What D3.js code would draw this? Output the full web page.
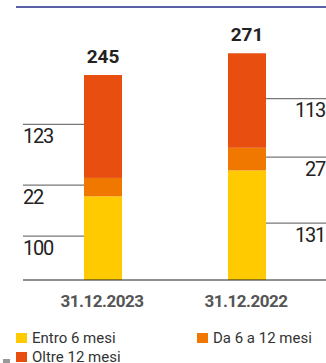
<!DOCTYPE html>
<html>
<head>
<meta charset="utf-8">
<script src="https://cdn.jsdelivr.net/npm/d3@7"></script>
<style>
  body { margin: 0; background: #fff; }
  svg { display: block; }
</style>
</head>
<body>
<svg id="chart" width="326" height="363"></svg>
<script>
var categories = ['31.12.2023', '31.12.2022'];
var seriesNames = ['Entro 6 mesi', 'Da 6 a 12 mesi', 'Oltre 12 mesi'];
var entro = [100, 131];
var da6 = [22, 27];
var oltre = [123, 113];
var totals = [245, 271];
var colors = ['#FFCB00', '#F07800', '#E84E10'];

var svg = d3.select('#chart');
var y = d3.scaleLinear().domain([0, 300]).range([280, 29]);
var x = d3.scalePoint().domain(categories).range([103, 247]);
var barW = 38;

// top rule
svg.append('line')
  .attr('x1', 16).attr('x2', 326).attr('y1', 7).attr('y2', 7)
  .attr('stroke', '#5b5fa6').attr('stroke-width', 2);

var rows = categories.map(function(c, i) {
  return { cat: c, vals: [entro[i], da6[i], oltre[i]], total: totals[i], idx: i };
});

rows.forEach(function(r) {
  var base = 0;
  r.segs = r.vals.map(function(v, k) {
    var s = { y0: base, y1: base + v, v: v, k: k };
    base += v;
    return s;
  });
});

var g = svg.selectAll('g.bar')
  .data(rows)
  .enter().append('g')
  .attr('class', 'bar');

g.selectAll('rect')
  .data(function(d) { return d.segs.map(function(s) { s.cat = d.cat; s.idx = d.idx; return s; }); })
  .enter().append('rect')
  .attr('x', function(s) { return x(s.cat) - barW / 2; })
  .attr('y', function(s) { return y(s.y1); })
  .attr('width', barW)
  .attr('height', function(s) { return y(s.y0) - y(s.y1); })
  .attr('fill', function(s) { return colors[s.k]; });

// totals above bars
g.append('text')
  .attr('x', function(d) { return x(d.cat); })
  .attr('y', function(d) { return y(d.total) - 12; })
  .attr('text-anchor', 'middle')
  .style('font-family', 'Roboto, sans-serif')
  .style('font-weight', 'bold')
  .style('font-size', '19px')
  .style('fill', '#222')
  .text(function(d) { return d.total; });

// segment callouts: first bar to the left, second to the right
g.each(function(d) {
  var sel = d3.select(this);
  var left = d.idx == 0;
  d.segs.forEach(function(s) {
    var ly = (y(s.y0) + y(s.y1)) / 2 - 2;
    var xa = left ? 23 : x(d.cat) + barW / 2;
    var xb = left ? x(d.cat) - barW / 2 : 326;
    sel.append('line')
      .attr('x1', xa).attr('x2', xb).attr('y1', ly).attr('y2', ly)
      .attr('stroke', '#777').attr('stroke-width', 1.2);
    sel.append('text')
      .attr('x', left ? 23 : 325)
      .attr('y', ly + 18.5)
      .attr('text-anchor', left ? 'start' : 'end')
      .style('font-family', 'Roboto, sans-serif')
      .style('font-weight', 400)
      .style('font-size', '20px')
      .style('letter-spacing', '-1.2px')
      .style('fill', '#222')
      .text(s.v);
  });
});

// baseline
svg.append('line')
  .attr('x1', 23).attr('x2', 326).attr('y1', y(0)).attr('y2', y(0))
  .attr('stroke', '#222').attr('stroke-width', 1.2);

// category labels
svg.selectAll('text.cat')
  .data(categories)
  .enter().append('text')
  .attr('class', 'cat')
  .attr('x', function(d) { return x(d) - 1; })
  .attr('y', 307)
  .attr('text-anchor', 'middle')
  .style('font-family', 'Roboto, sans-serif')
  .style('font-weight', 'bold')
  .style('font-size', '17px')
  .style('letter-spacing', '-0.5px')
  .style('fill', '#555')
  .text(function(d) { return d; });

// legend
var legPos = [[16, 333], [197, 333], [16, 352]];
var leg = svg.selectAll('g.leg')
  .data(seriesNames)
  .enter().append('g')
  .attr('class', 'leg')
  .attr('transform', function(d, i) { return 'translate(' + legPos[i][0] + ',' + legPos[i][1] + ')'; });
leg.append('rect')
  .attr('width', 11).attr('height', 10)
  .attr('fill', function(d, i) { return colors[i]; });
leg.append('text')
  .attr('x', 16).attr('y', 9.5)
  .style('font-family', 'Roboto, sans-serif')
  .style('font-weight', 400)
  .style('font-size', '15px')
  .style('fill', '#333')
  .text(function(d) { return d; });

// small grey mark at lower left
svg.append('rect')
  .attr('x', 3).attr('y', 359).attr('width', 7).attr('height', 4)
  .attr('fill', '#999');
</script>
</body>
</html>
